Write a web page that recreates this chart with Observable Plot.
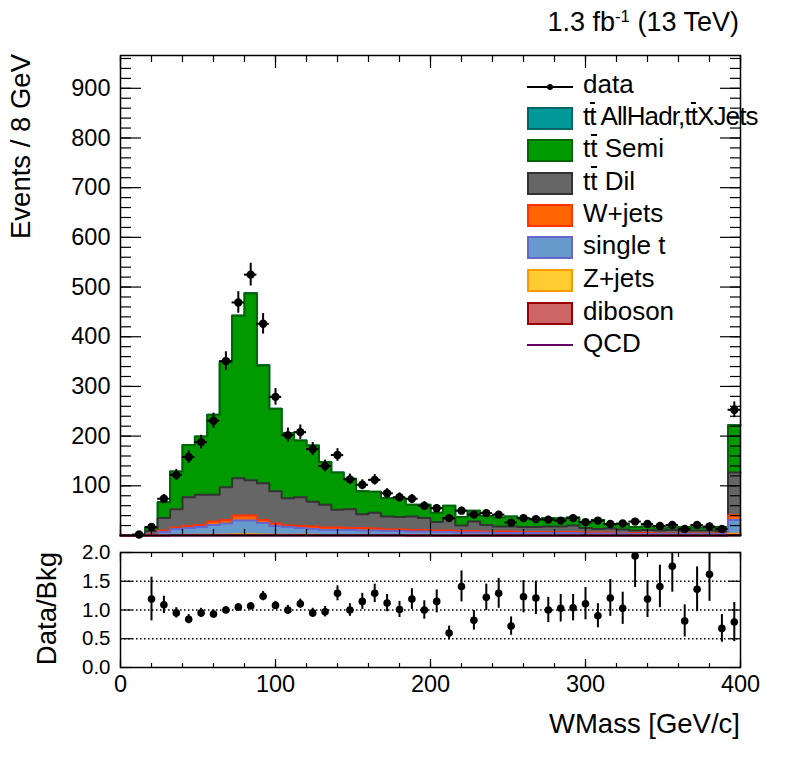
<!DOCTYPE html>
<html><head><meta charset="utf-8">
<script src="https://cdn.jsdelivr.net/npm/d3@7"></script>
<script src="https://cdn.jsdelivr.net/npm/@observablehq/plot@0.6"></script>
<style>
body{margin:0;background:#fff;font-family:"Liberation Sans",Arial,Helvetica,sans-serif;}
#wrap{position:relative;width:796px;height:772px;overflow:hidden;background:#fff;}
#wrap svg{position:absolute;left:0;overflow:visible;}
.t{position:absolute;white-space:nowrap;color:#000;line-height:1;}
.ov{position:relative;}
.ov::after{content:"";position:absolute;left:0.03em;right:0.03em;top:0.02em;height:2px;background:#000;}
.box{position:absolute;box-sizing:border-box;border-style:solid;border-width:2px;}
</style></head><body><div id="wrap"></div>
<script>
// ---------- data (50 bins of 8 GeV, 0-400) ----------
const binLow = d3.range(0, 400, 8);
const binWidth = 8;

const dataCounts = [0,2,17,74,122,158,188,231,351,469,525,426,279,202,208,174,140,162,113,102,
  112,85,77,74,60,55,35,50,42,45,42,26,35,33,32,30,35,27,30,23,
  24,28,23,19,21,13,21,18,13,253];

// stacked backgrounds (bottom -> top)
const qcd       = new Array(50).fill(0);
const diboson   = [0,0,0.1,0.2,0.3,0.4,0.4,0.5,0.6,0.7,0.7,0.6,0.5,0.4,0.4,0.4,0.3,0.3,0.3,0.3,
  0.3,0.3,0.3,0.2,0.2,0.2,0.2,0.2,0.2,0.2,0.2,0.2,0.2,0.2,0.2,0.2,0.2,0.2,0.2,0.2,
  0.2,0.2,0.2,0.2,0.2,0.2,0.2,0.2,0.2,1];
const zjets     = [0,0,0.2,0.5,0.8,1,1,1.2,1.4,1.8,1.8,1.5,1.2,1,1,0.9,0.8,0.8,0.8,0.7,
  0.7,0.6,0.6,0.6,0.6,0.5,0.5,0.5,0.5,0.5,0.4,0.4,0.4,0.4,0.4,0.4,0.4,0.3,0.3,0.3,
  0.3,0.3,0.3,0.3,0.3,0.3,0.3,0.3,0.3,2.5];
const singleT   = [0,0,1.2,6.3,11.9,13.6,15.6,19.3,22,27.5,27.5,22.9,17.3,15.6,13.6,11.7,9.9,9.9,9.9,9,
  9,8.1,8.1,7.2,7.2,6.3,6.3,5.3,5.3,5.3,4.4,4.4,4.4,4.4,4.4,4.4,4.4,3.5,3.5,3.5,
  3.5,2.5,2.5,2.5,2.5,2.5,2.5,2.5,2.5,27.5];
const wjets     = [0,0,0.5,3,3,4,4,7,7,10,10,6,5,3,4,5,5,5,4,5,
  4,3,3,3,3,3,3,3,3,2,3,3,2,2,2,2,2,2,2,2,
  1,2,2,1,1,1,1,1,1,10];
const ttDil     = [0,0,7,25,37,58,61,54,66,75,71,74,65,55,58,50,46,36,38,28,
  32,26,25,27,24,17,23,11,19,13,10,10,10,10,11,11,13,9,7,8,
  7,5,6,6,7,6,6,6,4,86];
const ttSemi    = [0,1,7,32,76,105,117,161,251,327,376,237,166,131,114,113,86,75,61,46,
  42,37,37,24,27,19,27,17,22,18,18,20,17,15,17,16,16,9,18,8,
  11,7,7,4,5,7,6,6,9,95];
const ttAllHadr = [0,0,0,0,0,0,0,0,1,1,1,1,0,0,0,0,0,0,0,0,
  0,0,0,0,0,0,0,0,0,0,0,0,0,0,0,0,0,0,0,0,
  0,0,0,0,0,0,0,0,0,0];

// ratio panel (Data/Bkg) and its errors, one per bin
const ratio = [null,null,1.19,1.09,0.95,0.84,0.95,0.93,1.0,1.05,1.07,1.24,1.08,1.0,1.11,0.95,0.97,1.29,1.0,1.15,
  1.29,1.12,1.01,1.19,1.0,1.15,0.60,1.41,0.82,1.22,1.29,0.72,1.23,1.21,1.0,1.03,1.04,1.11,0.90,1.21,
  1.03,1.94,1.19,1.41,1.76,0.81,1.36,1.62,0.68,0.79];
const ratioErr = [null,null,0.38,0.15,0.09,0.08,0.08,0.07,0.06,0.06,0.06,0.08,0.07,0.08,0.08,0.08,0.09,0.13,0.11,0.14,
  0.16,0.15,0.14,0.18,0.16,0.2,0.12,0.27,0.17,0.23,0.26,0.16,0.28,0.29,0.22,0.24,0.23,0.28,0.21,0.32,
  0.28,0.55,0.32,0.37,0.45,0.28,0.39,0.47,0.24,0.34];

// ---------- legend / series descriptions ----------
const series = [
  {name:"QCD",            vals:qcd,       fill:"none",    stroke:"#660066"},
  {name:"diboson",        vals:diboson,   fill:"#cc6666", stroke:"#990000"},
  {name:"Z+jets",         vals:zjets,     fill:"#ffcc33", stroke:"#ff9900"},
  {name:"single t",       vals:singleT,   fill:"#6699cc", stroke:"#6666cc"},
  {name:"W+jets",         vals:wjets,     fill:"#ff6600", stroke:"#ff3300"},
  {name:"tt Dil",         vals:ttDil,     fill:"#666666", stroke:"#333333"},
  {name:"tt Semi",        vals:ttSemi,    fill:"#009900", stroke:"#006600"},
  {name:"tt AllHadr",     vals:ttAllHadr, fill:"#009999", stroke:"#006666"}
];

const yMajor = [0,100,200,300,400,500,600,700,800,900];
const yLabels = [100,200,300,400,500,600,700,800,900];
const yMinor = d3.range(0, 966, 20);
const xMajor = [0,100,200,300,400];
const xMinor = d3.range(0, 401, 20);
const rMajor = [0,0.5,1,1.5,2];
const rGrid = [0.5,1,1.5];

// ---------- build stacked (cumulative) step series ----------
let running = new Array(50).fill(0);
const cumSeries = series.map(s => {
  running = running.map((v,k) => v + s.vals[k]);
  const pts = binLow.map((lo,k) => ({x: lo, y: running[k]}));
  pts.push({x: 400, y: running[49]});
  return {...s, pts};
});

const stackMarks = [];
for (let i = cumSeries.length - 1; i >= 0; i--) {
  const s = cumSeries[i];
  if (s.fill !== "none") stackMarks.push(Plot.areaY(s.pts, {x:"x", y:"y", curve:"step-after", fill:s.fill}));
  stackMarks.push(Plot.lineY(s.pts, {x:"x", y:"y", curve:"step-after", stroke:s.stroke, strokeWidth:2}));
}

const dataRows = binLow.map((lo,k) => ({lo, hi: lo + binWidth, c: lo + binWidth/2, n: dataCounts[k]})).filter(d => d.n > 0);
const ratioRows = binLow.map((lo,k) => ({c: lo + binWidth/2, r: ratio[k], e: ratioErr[k]})).filter(d => d.r != null);

const noText = () => "";
function yTicksIn(ticks, size){
  return [
    Plot.axisY({anchor:"left", ticks, tickSize:size, dx:size, tickFormat:noText, label:null, strokeWidth:1.2}),
    Plot.axisY({anchor:"right", ticks, tickSize:size, dx:-size, tickFormat:noText, label:null, strokeWidth:1.2})
  ];
}
function xTicksIn(ticks, size){
  return [
    Plot.axisX({anchor:"bottom", ticks, tickSize:size, dy:-size, tickFormat:noText, label:null, strokeWidth:1.2}),
    Plot.axisX({anchor:"top", ticks, tickSize:size, dy:size, tickFormat:noText, label:null, strokeWidth:1.2})
  ];
}

const font = "Liberation Sans, Arial, Helvetica, sans-serif";

const main = Plot.plot({
  width: 796, height: 541,
  marginTop: 55, marginBottom: 6, marginLeft: 120, marginRight: 56,
  x: {domain: [0, 400], label: null},
  y: {domain: [0, 966], label: null},
  style: {fontFamily: font, fontSize: "23.5px", color: "#000", background: "transparent"},
  marks: [
    ...stackMarks,
    Plot.ruleX(dataRows, {x:"c", y1: d => d.n - Math.sqrt(d.n), y2: d => d.n + Math.sqrt(d.n), stroke:"#000", strokeWidth:2}),
    Plot.ruleY(dataRows, {y:"n", x1:"lo", x2:"hi", stroke:"#000", strokeWidth:2}),
    Plot.dot(dataRows, {x:"c", y:"n", r:4.2, fill:"#000", stroke:"none"}),
    ...yTicksIn(yMajor, 21),
    ...yTicksIn(yMinor, 11),
    ...xTicksIn(xMajor, 12),
    ...xTicksIn(xMinor, 6),
    Plot.axisY({anchor:"left", ticks: yLabels, tickSize:0, tickPadding:10, label:null, fontSize:23.5}),
    Plot.frame({stroke:"#000", strokeWidth:1.5})
  ]
});
main.style.top = "0px";

const ratioPlot = Plot.plot({
  width: 796, height: 231,
  marginTop: 11, marginBottom: 105, marginLeft: 120, marginRight: 56,
  x: {domain: [0, 400], label: null},
  y: {domain: [0, 2], label: null},
  style: {fontFamily: font, fontSize: "23.5px", color: "#000", background: "transparent"},
  marks: [
    Plot.ruleY(rGrid, {stroke:"#000", strokeWidth:1.5, strokeDasharray:"1.5,2.5"}),
    Plot.ruleX(ratioRows, {x:"c", y1: d => d.r - d.e, y2: d => d.r + d.e, stroke:"#000", strokeWidth:2, clip:true}),
    Plot.dot(ratioRows, {x:"c", y:"r", r:3.8, fill:"#000", stroke:"none", clip:true}),
    ...yTicksIn(rMajor, 12),
    ...xTicksIn(xMajor, 8),
    ...xTicksIn(xMinor, 4),
    Plot.axisY({anchor:"left", ticks: rMajor, tickSize:0, tickPadding:10, label:null, fontSize:20.5, tickFormat: d3.format(".1f")}),
    Plot.axisX({anchor:"bottom", ticks: xMajor, tickSize:0, tickPadding:8, label:null, fontSize:23.5}),
    Plot.frame({stroke:"#000", strokeWidth:1.5})
  ]
});
ratioPlot.style.top = "541px";

const wrap = document.getElementById("wrap");
wrap.appendChild(main);
wrap.appendChild(ratioPlot);

// ---------- text (HTML overlays) ----------
function text(html, {left, right, baseline, size, spacing}){
  const d = document.createElement("div");
  d.className = "t";
  d.innerHTML = html;
  d.style.fontSize = size + "px";
  d.style.top = (baseline - 0.8465*size) + "px";
  if (spacing != null) d.style.letterSpacing = spacing + "px";
  if (left != null) d.style.left = left + "px";
  if (right != null) d.style.right = right + "px";
  wrap.appendChild(d);
  return d;
}
function vtext(html, {baselineX, endY, size}){
  const W = 300;
  const d = document.createElement("div");
  d.className = "t";
  d.innerHTML = html;
  d.style.fontSize = size + "px";
  d.style.width = W + "px";
  d.style.textAlign = "right";
  d.style.left = (baselineX - 0.8465*size) + "px";
  d.style.top = (endY + W) + "px";
  d.style.transformOrigin = "0 0";
  d.style.transform = "rotate(-90deg)";
  wrap.appendChild(d);
}

text('1.3 fb<sup style="font-size:0.62em;vertical-align:0.55em">-1</sup> (13 TeV)', {right:57, baseline:32, size:27});
vtext("Events / 8 GeV", {baselineX:30, endY:54, size:27.5});
vtext("Data/Bkg", {baselineX:56, endY:552, size:27.5});
text("WMass [GeV/c]", {right:56, baseline:733, size:27.5});

// legend
const tt = 't<span class="ov">t</span>';
const legendRows = [
  {label:"data", kind:"data", cy:86.7},
  {label:tt + " AllHadr," + tt + "XJets", kind:"box", s:"tt AllHadr", cy:118.3, spacing:-0.9},
  {label:tt + " Semi", kind:"box", s:"tt Semi", cy:150.7},
  {label:tt + " Dil", kind:"box", s:"tt Dil", cy:183.2},
  {label:"W+jets", kind:"box", s:"W+jets", cy:215.5},
  {label:"single t", kind:"box", s:"single t", cy:247.8},
  {label:"Z+jets", kind:"box", s:"Z+jets", cy:280.3},
  {label:"diboson", kind:"box", s:"diboson", cy:313},
  {label:"QCD", kind:"line", s:"QCD", cy:345}
];
for (const row of legendRows) {
  if (row.kind === "box") {
    const s = series.find(x => x.name === row.s);
    const b = document.createElement("div");
    b.className = "box";
    Object.assign(b.style, {left:"527px", top:(row.cy - 11.5) + "px", width:"46px", height:"23px",
      background:s.fill, borderColor:s.stroke});
    wrap.appendChild(b);
  } else if (row.kind === "line") {
    const s = series.find(x => x.name === row.s);
    const l = document.createElement("div");
    Object.assign(l.style, {position:"absolute", left:"527px", top:(row.cy - 1) + "px", width:"46px", height:"2px", background:s.stroke});
    wrap.appendChild(l);
  } else {
    const l = document.createElement("div");
    Object.assign(l.style, {position:"absolute", left:"527px", top:(row.cy - 1) + "px", width:"46px", height:"2px", background:"#000"});
    wrap.appendChild(l);
    const dt = document.createElement("div");
    Object.assign(dt.style, {position:"absolute", left:"547px", top:(row.cy - 3) + "px", width:"6px", height:"6px", borderRadius:"3px", background:"#000"});
    wrap.appendChild(dt);
  }
  text(row.label, {left:583, baseline:row.cy + 6.7, size:26, spacing:row.spacing});
}
</script>
</body></html>
